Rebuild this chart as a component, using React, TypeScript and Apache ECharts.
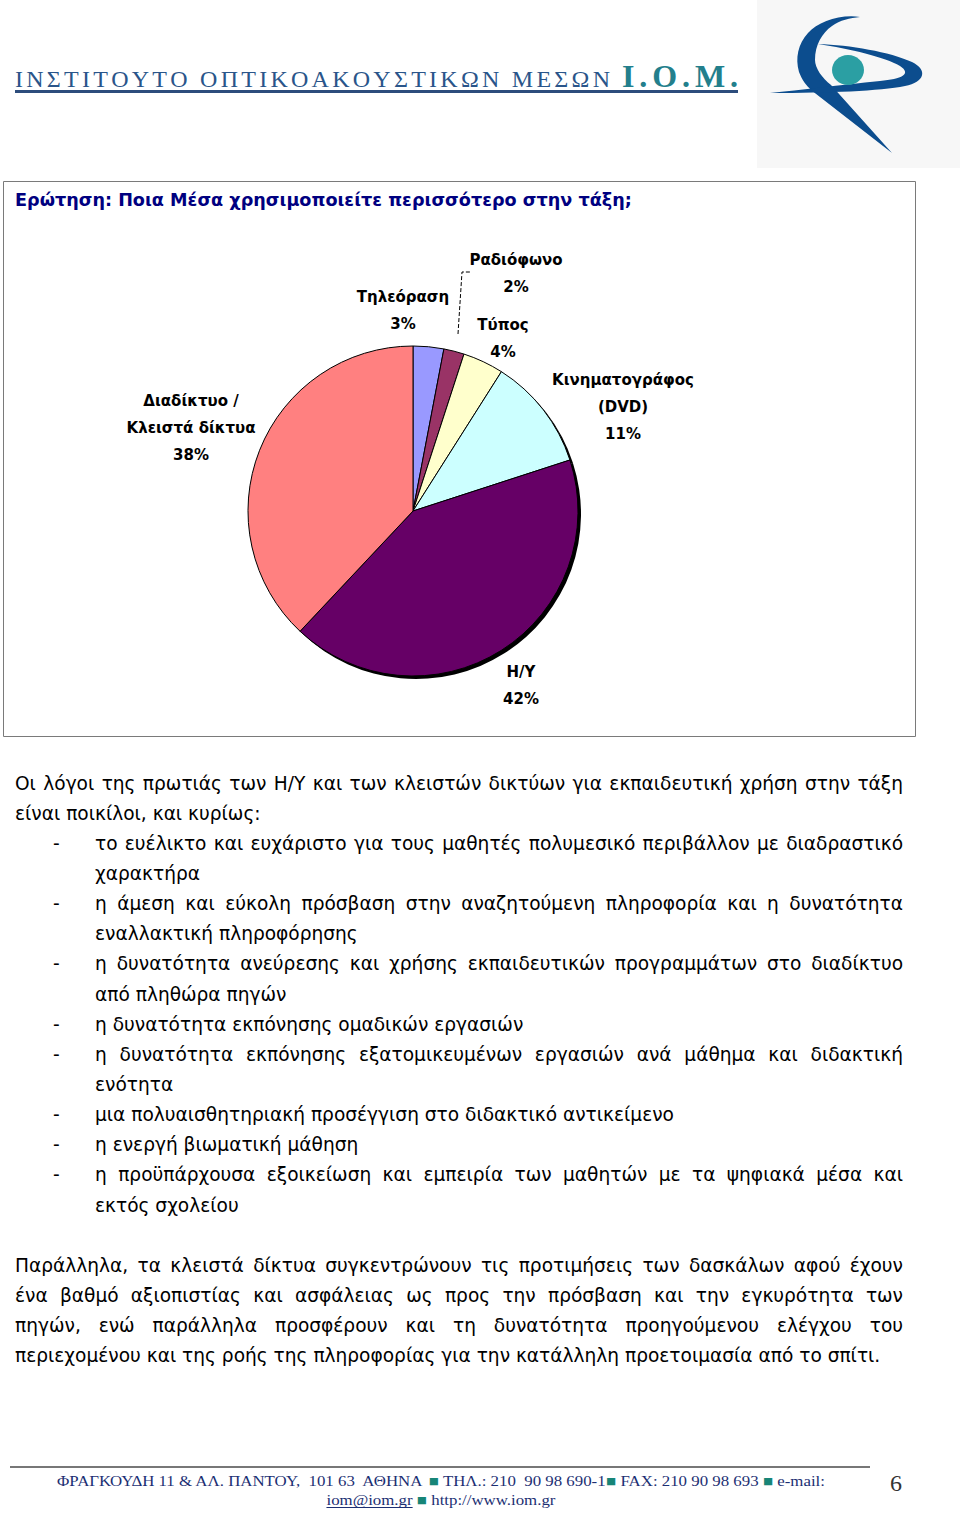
import React, { useEffect, useRef } from 'react';
import * as echarts from 'echarts';

// ---------- data ----------
const categories = ['Τηλεόραση', 'Ραδιόφωνο', 'Τύπος', 'Κινηματογράφος (DVD)', 'Η/Υ', 'Διαδίκτυο / Κλειστά δίκτυα'];
const labelTexts = ['Τηλεόραση', 'Ραδιόφωνο', 'Τύπος', 'Κινηματογράφος\n(DVD)', 'Η/Υ', 'Διαδίκτυο /\nΚλειστά δίκτυα'];
const shares = [3, 2, 4, 11, 42, 38];
const sliceColors = ['#9999FF', '#993366', '#FFFFCC', '#CCFFFF', '#660066', '#FF8080'];

const chartTitle = 'Ερώτηση: Ποια Μέσα χρησιμοποιείτε περισσότερο στην τάξη;';
const headerName = 'ΙΝΣΤΙΤΟΥΤΟ ΟΠΤΙΚΟΑΚΟΥΣΤΙΚΩΝ ΜΕΣΩΝ';
const headerAbbr = 'Ι.Ο.Μ.';

const bodyLines = [
  { text: 'Οι λόγοι της πρωτιάς των Η/Υ και των κλειστών δικτύων για εκπαιδευτική χρήση στην τάξη', dash: false, indent: false, justify: true },
  { text: 'είναι ποικίλοι, και κυρίως:', dash: false, indent: false, justify: false },
  { text: 'το ευέλικτο και ευχάριστο για τους μαθητές πολυμεσικό περιβάλλον με διαδραστικό', dash: true, indent: true, justify: true },
  { text: 'χαρακτήρα', dash: false, indent: true, justify: false },
  { text: 'η άμεση και εύκολη πρόσβαση στην αναζητούμενη πληροφορία και η δυνατότητα', dash: true, indent: true, justify: true },
  { text: 'εναλλακτική πληροφόρησης', dash: false, indent: true, justify: false },
  { text: 'η δυνατότητα ανεύρεσης και χρήσης εκπαιδευτικών προγραμμάτων στο διαδίκτυο', dash: true, indent: true, justify: true },
  { text: 'από πληθώρα πηγών', dash: false, indent: true, justify: false },
  { text: 'η δυνατότητα εκπόνησης ομαδικών εργασιών', dash: true, indent: true, justify: false },
  { text: 'η δυνατότητα εκπόνησης εξατομικευμένων εργασιών ανά μάθημα και διδακτική', dash: true, indent: true, justify: true },
  { text: 'ενότητα', dash: false, indent: true, justify: false },
  { text: 'μια πολυαισθητηριακή προσέγγιση στο διδακτικό αντικείμενο', dash: true, indent: true, justify: false },
  { text: 'η ενεργή βιωματική μάθηση', dash: true, indent: true, justify: false },
  { text: 'η προϋπάρχουσα εξοικείωση και εμπειρία των μαθητών με τα ψηφιακά μέσα και', dash: true, indent: true, justify: true },
  { text: 'εκτός σχολείου', dash: false, indent: true, justify: false },
];
const paraLines = [
  { text: 'Παράλληλα, τα κλειστά δίκτυα συγκεντρώνουν τις προτιμήσεις των δασκάλων αφού έχουν', justify: true },
  { text: 'ένα βαθμό αξιοπιστίας και ασφάλειας ως προς την πρόσβαση και την εγκυρότητα των', justify: true },
  { text: 'πηγών, ενώ παράλληλα προσφέρουν και τη δυνατότητα προηγούμενου ελέγχου του', justify: true },
  { text: 'περιεχομένου και της ροής της πληροφορίας για την κατάλληλη προετοιμασία από το σπίτι.', justify: false },
];

const footerLine1 = [
  { t: 'ΦΡΑΓΚΟΥΔΗ 11 & ΑΛ. ΠΑΝΤΟΥ,  101 63  ΑΘΗΝΑ ', sq: false },
  { t: '■', sq: true },
  { t: ' ΤΗΛ.: 210  90 98 690-1', sq: false },
  { t: '■', sq: true },
  { t: ' FAX: 210 90 98 693 ', sq: false },
  { t: '■', sq: true },
  { t: ' e-mail:', sq: false },
];
const footerLine2 = [
  { t: 'iom@iom.gr', sq: false, u: true },
  { t: ' ', sq: false },
  { t: '■', sq: true },
  { t: ' http://www.iom.gr', sq: false },
];
const pageNumber = '6';

// ---------- layout ----------
const labelCenters = [[403, 310], [516, 273], [503, 338], [623, 407], [521, 685], [191, 428]];
const radioLeader = [[458, 334], [462, 272], [470, 272]];

const LOGO_CURVE =
  'M 860 17 C 840 14 818 22 808 33 C 798 44 795 58 799 72 C 802 80 806 85 811 90 L 892 153 L 831 85 C 822 78 815 68 815 60 C 815 45 822 33 832 26 C 840 20 850 18 860 17 Z';
const LOGO_SWOOSH =
  'M 770 93 C 830 93 880 91 905 86 C 925 82 928 70 912 62 C 890 52 850 45 818 44 C 850 49 885 57 900 66 C 912 74 902 79 880 81 C 840 85 800 90 770 93 Z';

const ctx2d = typeof document !== 'undefined' ? document.createElement('canvas').getContext('2d') : null;
function measure(text: string, size: number, family: string, weight = 'normal') {
  if (!ctx2d) return text.length * size * 0.55;
  ctx2d.font = `${weight} ${size}px "${family}"`;
  return ctx2d.measureText(text).width;
}

function txt(x: number, y: number, text: string, size: number, family: string, fill: string, weight = 'normal', extra: any = {}) {
  return {
    type: 'text',
    x,
    y,
    silent: true,
    ...extra,
    style: {
      text,
      fontSize: size,
      fontFamily: family,
      fontWeight: weight,
      fill,
      align: 'left',
      verticalAlign: 'middle',
      textAlign: 'left',
      textVerticalAlign: 'middle',
    },
  };
}

function justifyWords(text: string, x0: number, x1: number, y: number, size: number, family: string, fill: string) {
  const words = text.split(' ');
  const ws = words.map((w) => measure(w, size, family));
  const sum = ws.reduce((a, b) => a + b, 0);
  const gap = words.length > 1 ? (x1 - x0 - sum) / (words.length - 1) : 0;
  const out: any[] = [];
  let x = x0;
  words.forEach((w, i) => {
    out.push(txt(x, y, w, size, family, fill));
    x += ws[i] + gap;
  });
  return out;
}

function spreadChars(text: string, x0: number, x1: number, y: number, size: number, family: string, fill: string, weight = 'normal') {
  const chars = Array.from(text);
  const ws = chars.map((c) => measure(c, size, family, weight));
  const sum = ws.reduce((a, b) => a + b, 0);
  const gap = (x1 - x0 - sum) / (chars.length - 1);
  const out: any[] = [];
  let x = x0;
  chars.forEach((c, i) => {
    if (c !== ' ') out.push(txt(x, y, c, size, family, fill, weight));
    x += ws[i] + gap;
  });
  return out;
}

function buildGraphics() {
  const els: any[] = [];
  // logo background
  els.push({ type: 'rect', silent: true, shape: { x: 757, y: 0, width: 203, height: 168 }, style: { fill: '#f7f7f7' } });
  els.push({ type: 'iomCurve', silent: true, x: 0, y: 0, shape: {}, style: { fill: '#0c4d8e' } });
  els.push({ type: 'iomSwoosh', silent: true, x: 0, y: 0, shape: {}, style: { fill: '#0c4d8e' } });
  els.push({ type: 'ellipse', silent: true, shape: { cx: 848, cy: 70, rx: 16, ry: 15 }, style: { fill: '#2b9fa3' } });

  // header
  els.push(...spreadChars(headerName, 15, 610, 79, 24, 'Liberation Serif', '#2a558a'));
  els.push(...spreadChars(headerAbbr, 622, 738, 76, 32, 'Liberation Serif', '#237f8c', 'bold'));
  els.push({ type: 'rect', silent: true, shape: { x: 15, y: 90, width: 723, height: 3 }, style: { fill: '#2d4d7c' } });

  // chart frame
  els.push({ type: 'rect', silent: true, shape: { x: 3.5, y: 181.5, width: 912, height: 555 }, style: { fill: 'none', stroke: '#7a7a7a', lineWidth: 1 } });
  const titleSize = 19 * 617 / measure(chartTitle, 19, 'DejaVu Sans', 'bold');
  els.push(txt(15, 200, chartTitle, titleSize, 'DejaVu Sans', '#000080', 'bold'));

  // body text
  const fam = 'DejaVu Sans';
  const refLine = paraLines[paraLines.length - 1].text;
  const bodySize = 18 * 866 / measure(refLine, 18, fam);
  bodyLines.forEach((ln, i) => {
    const y = 783 + i * 30.15;
    const x0 = ln.indent ? 95 : 15;
    if (ln.dash) els.push(txt(53, y, '-', bodySize, fam, '#000'));
    if (ln.justify) els.push(...justifyWords(ln.text, x0, 903, y, bodySize, fam, '#000'));
    else els.push(txt(x0, y, ln.text, bodySize, fam, '#000'));
  });
  paraLines.forEach((ln, i) => {
    const y = 1265 + i * 30.3;
    if (ln.justify) els.push(...justifyWords(ln.text, 15, 903, y, bodySize, fam, '#000'));
    else els.push(txt(15, y, ln.text, bodySize, fam, '#000'));
  });

  // footer
  els.push({ type: 'line', silent: true, shape: { x1: 10, y1: 1467, x2: 870, y2: 1467 }, style: { stroke: '#4a4a4a', lineWidth: 1.5 } });
  const fSize = 15;
  const fFam = 'Liberation Serif';
  const navy = '#1c2f73';
  const teal = '#178577';
  const w1 = footerLine1.reduce((a, s) => a + measure(s.t, fSize, fFam), 0);
  const sc = 768 / w1;
  let x = 57;
  footerLine1.forEach((s) => {
    els.push(txt(x, 1481, s.t, fSize, fFam, s.sq ? teal : navy, 'normal', { scaleX: sc }));
    x += measure(s.t, fSize, fFam) * sc;
  });
  const w2 = footerLine2.reduce((a, s) => a + measure(s.t, fSize, fFam), 0) * sc;
  x = 441 - w2 / 2;
  footerLine2.forEach((s: any) => {
    const w = measure(s.t, fSize, fFam) * sc;
    els.push(txt(x, 1500, s.t, fSize, fFam, s.sq ? teal : navy, 'normal', { scaleX: sc }));
    if (s.u) els.push({ type: 'line', silent: true, shape: { x1: x, y1: 1507.5, x2: x + w, y2: 1507.5 }, style: { stroke: navy, lineWidth: 1 } });
    x += w;
  });
  els.push(txt(890, 1483, pageNumber, 24, fFam, '#333'));
  return els;
}

let shapesRegistered = false;
function registerShapes() {
  if (shapesRegistered) return;
  echarts.graphic.registerShape('iomCurve', echarts.graphic.extendPath(LOGO_CURVE, {}));
  echarts.graphic.registerShape('iomSwoosh', echarts.graphic.extendPath(LOGO_SWOOSH, {}));
  shapesRegistered = true;
}

export default function App() {
  const ref = useRef<HTMLDivElement>(null);
  useEffect(() => {
    if (!ref.current) return;
    registerShapes();
    const chart = echarts.init(ref.current, undefined, { renderer: 'svg' });
    const option: any = {
      animation: false,
      backgroundColor: '#ffffff',
      graphic: { elements: buildGraphics() },
      series: [
        {
          type: 'pie',
          name: 'shadow',
          silent: true,
          center: [416, 514],
          radius: 165,
          startAngle: 90,
          clockwise: true,
          z: 1,
          label: { show: false },
          labelLine: { show: false },
          itemStyle: { color: '#000', borderWidth: 0 },
          data: categories.map((c, i) => ({ name: c, value: shares[i] })),
        },
        {
          type: 'pie',
          name: 'Μέσα',
          silent: true,
          center: [413, 511],
          radius: 165,
          startAngle: 90,
          clockwise: true,
          z: 2,
          avoidLabelOverlap: false,
          itemStyle: { borderColor: '#000', borderWidth: 1 },
          label: {
            show: true,
            formatter: (p: any) => `${labelTexts[p.dataIndex]}\n${p.value}%`,
            fontFamily: 'DejaVu Sans',
            fontWeight: 'bold',
            fontSize: 15,
            lineHeight: 27,
            color: '#000',
            align: 'center',
          },
          labelLine: { show: false },
          labelLayout: (p: any) => {
            const [lx, ly] = labelCenters[p.dataIndex];
            const res: any = { x: lx, y: ly, align: 'center', verticalAlign: 'middle' };
            if (p.dataIndex === 1) res.labelLinePoints = radioLeader;
            return res;
          },
          data: categories.map((c, i) => ({
            name: c,
            value: shares[i],
            itemStyle: { color: sliceColors[i] },
            labelLine:
              i === 1
                ? { show: true, length: 10, length2: 8, lineStyle: { type: 'dashed', color: '#000', width: 1 } }
                : { show: false },
          })),
        },
      ],
    };
    chart.setOption(option);
    return () => chart.dispose();
  }, []);
  return (
    <div
      ref={ref}
      style={{ position: 'absolute', left: 0, top: 0, width: 960, height: 1516, background: '#fff' }}
    />
  );
}
